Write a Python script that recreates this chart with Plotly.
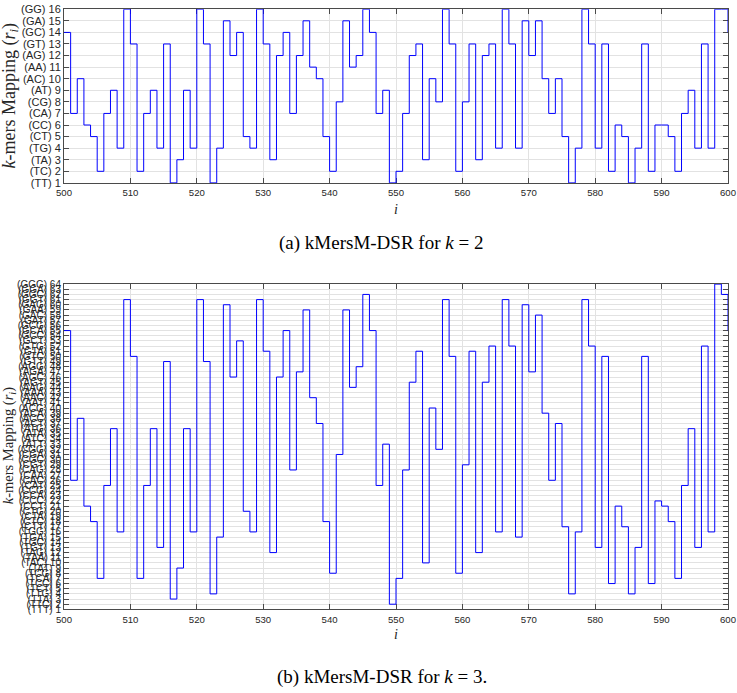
import plotly.graph_objects as go

# ---------------- data ----------------
positions = list(range(500, 601))

k2_values = [14, 7, 10, 6, 5, 2, 7, 9, 4, 16,
             13, 2, 7, 9, 4, 13, 1, 3, 9, 4,
             16, 13, 1, 4, 15, 12, 14, 5, 4, 16,
             13, 3, 12, 14, 7, 12, 15, 11, 10, 5,
             2, 8, 15, 11, 12, 16, 14, 7, 9, 1,
             2, 7, 12, 13, 3, 10, 8, 16, 13, 2,
             8, 13, 3, 12, 13, 4, 16, 13, 4, 15,
             12, 15, 10, 7, 10, 5, 1, 4, 16, 13,
             4, 13, 2, 6, 5, 1, 4, 13, 2, 6,
             6, 5, 2, 7, 9, 4, 13, 4, 16, 16,
             14]

k3_values = [55, 26, 38, 21, 18, 7, 25, 36, 16, 61,
             50, 7, 25, 36, 13, 49, 3, 9, 36, 16,
             61, 49, 4, 15, 60, 46, 53, 20, 16, 61,
             51, 12, 46, 55, 28, 47, 59, 42, 37, 18,
             8, 31, 59, 44, 48, 62, 55, 25, 33, 2,
             7, 28, 45, 51, 10, 40, 32, 61, 50, 8,
             29, 51, 12, 45, 52, 16, 61, 52, 15, 60,
             47, 58, 39, 26, 37, 17, 4, 16, 61, 52,
             13, 50, 6, 21, 17, 4, 13, 50, 6, 22,
             21, 18, 7, 25, 36, 13, 52, 16, 64, 62,
             55]

k2_tick_vals = list(range(1, 17))
k2_tick_text = ["(TT) 1", "(TC) 2", "(TA) 3", "(TG) 4", "(CT) 5", "(CC) 6", "(CA) 7", "(CG) 8",
                "(AT) 9", "(AC) 10", "(AA) 11", "(AG) 12", "(GT) 13", "(GC) 14", "(GA) 15", "(GG) 16"]

k3_tick_vals = list(range(1, 65))
k3_tick_text = ["(TTT) 1", "(TTC) 2", "(TTA) 3", "(TTG) 4", "(TCT) 5", "(TCC) 6", "(TCA) 7", "(TCG) 8",
                "(TAT) 9", "(TAC) 10", "(TAA) 11", "(TAG) 12", "(TGT) 13", "(TGC) 14", "(TGA) 15", "(TGG) 16",
                "(CTT) 17", "(CTC) 18", "(CTA) 19", "(CTG) 20", "(CCT) 21", "(CCC) 22", "(CCA) 23", "(CCG) 24",
                "(CAT) 25", "(CAC) 26", "(CAA) 27", "(CAG) 28", "(CGT) 29", "(CGC) 30", "(CGA) 31", "(CGG) 32",
                "(ATT) 33", "(ATC) 34", "(ATA) 35", "(ATG) 36", "(ACT) 37", "(ACC) 38", "(ACA) 39", "(ACG) 40",
                "(AAT) 41", "(AAC) 42", "(AAA) 43", "(AAG) 44", "(AGT) 45", "(AGC) 46", "(AGA) 47", "(AGG) 48",
                "(GTT) 49", "(GTC) 50", "(GTA) 51", "(GTG) 52", "(GCT) 53", "(GCC) 54", "(GCA) 55", "(GCG) 56",
                "(GAT) 57", "(GAC) 58", "(GAA) 59", "(GAG) 60", "(GGT) 61", "(GGC) 62", "(GGA) 63", "(GGG) 64"]

x_tick_vals = list(range(500, 601, 10))

# ---------------- figure ----------------
W, H = 737, 693
ML, MR = 64, 9
PW = W - ML - MR

def py(px):
    return 1 - px / H

def px_x(px):
    return (px - ML) / PW

fig = go.Figure()
fig.add_trace(go.Scatter(x=positions, y=k2_values, mode="lines", line_shape="hv",
                         line=dict(color="#0000ff", width=1), xaxis="x", yaxis="y",
                         showlegend=False, hoverinfo="skip"))
fig.add_trace(go.Scatter(x=positions, y=k3_values, mode="lines", line_shape="hv",
                         line=dict(color="#0000ff", width=1), xaxis="x2", yaxis="y2",
                         showlegend=False, hoverinfo="skip"))

axis_common = dict(showline=True, linecolor="#4a4a4a", linewidth=1, mirror="ticks",
                   ticks="inside", ticklen=5, tickcolor="#4a4a4a", tickwidth=1,
                   showgrid=True, gridcolor="#e2e2e2", gridwidth=1, zeroline=False,
                   layer="below traces")
tickfont_x = dict(family="Liberation Sans, Arial, sans-serif", size=9.6, color="#262626")

fig.update_layout(
    width=W, height=H,
    margin=dict(l=ML, r=MR, t=0, b=0),
    paper_bgcolor="white", plot_bgcolor="white",
    xaxis=dict(domain=[0, 1], range=[500, 600], anchor="y", tickmode="array",
               tickvals=x_tick_vals, tickfont=tickfont_x, ticklabeloverflow="allow",
               ticklabelstandoff=1, **axis_common),
    yaxis=dict(domain=[py(180), py(3.3)], range=[1, 16], anchor="x", tickmode="array",
               tickvals=k2_tick_vals, ticktext=k2_tick_text, ticklabelstandoff=0,
               tickfont=dict(family="Liberation Sans, Arial, sans-serif", size=11, color="#262626"),
               **axis_common),
    xaxis2=dict(domain=[0, 1], range=[500, 600], anchor="y2", tickmode="array",
                tickvals=x_tick_vals, tickfont=tickfont_x, ticklabeloverflow="allow",
                ticklabelstandoff=1, **axis_common),
    yaxis2=dict(domain=[py(614), py(283)], range=[1, 64], anchor="x2", tickmode="array",
                tickvals=k3_tick_vals, ticktext=k3_tick_text, ticklabelstandoff=0,
                tickfont=dict(family="Liberation Sans, Arial, sans-serif", size=10, color="#262626"),
                **axis_common),
)

serif = "Liberation Serif, Times New Roman, serif"
ann = []
# y-axis titles
ann.append(dict(text="<i>k</i>-mers Mapping (<i>r<sub>i</sub></i>)", x=px_x(10), y=py(91),
                xref="paper", yref="paper", textangle=-90, showarrow=False,
                font=dict(family=serif, size=18, color="#262626"), xanchor="center", yanchor="middle"))
ann.append(dict(text="<i>k</i>-mers Mapping (<i>r<sub>i</sub></i>)", x=px_x(9), y=py(448),
                xref="paper", yref="paper", textangle=-90, showarrow=False,
                font=dict(family=serif, size=14.5, color="#262626"), xanchor="center", yanchor="middle"))
# x-axis titles
ann.append(dict(text="<i>i</i>", x=px_x(396), y=py(207), xref="paper", yref="paper", showarrow=False,
                font=dict(family=serif, size=14, color="#262626"), xanchor="center", yanchor="middle"))
ann.append(dict(text="<i>i</i>", x=px_x(396), y=py(640), xref="paper", yref="paper", showarrow=False,
                font=dict(family=serif, size=14, color="#262626"), xanchor="center", yanchor="middle"))
# captions
ann.append(dict(text="(a) kMersM-DSR for <i>k</i> = 2", x=px_x(381), y=py(241), xref="paper", yref="paper",
                showarrow=False, font=dict(family=serif, size=19, color="black"),
                xanchor="center", yanchor="middle"))
ann.append(dict(text="(b) kMersM-DSR for <i>k</i> = 3.", x=px_x(382), y=py(683), xref="paper", yref="paper",
                showarrow=False, font=dict(family=serif, size=19, color="black"),
                xanchor="center", yanchor="middle"))
fig.update_layout(annotations=ann)

# the page's default body margin would shift the figure by 8px; remove it
fig.write_html("out.html", config={"displayModeBar": False},
               post_script="document.body.style.margin='0';")
